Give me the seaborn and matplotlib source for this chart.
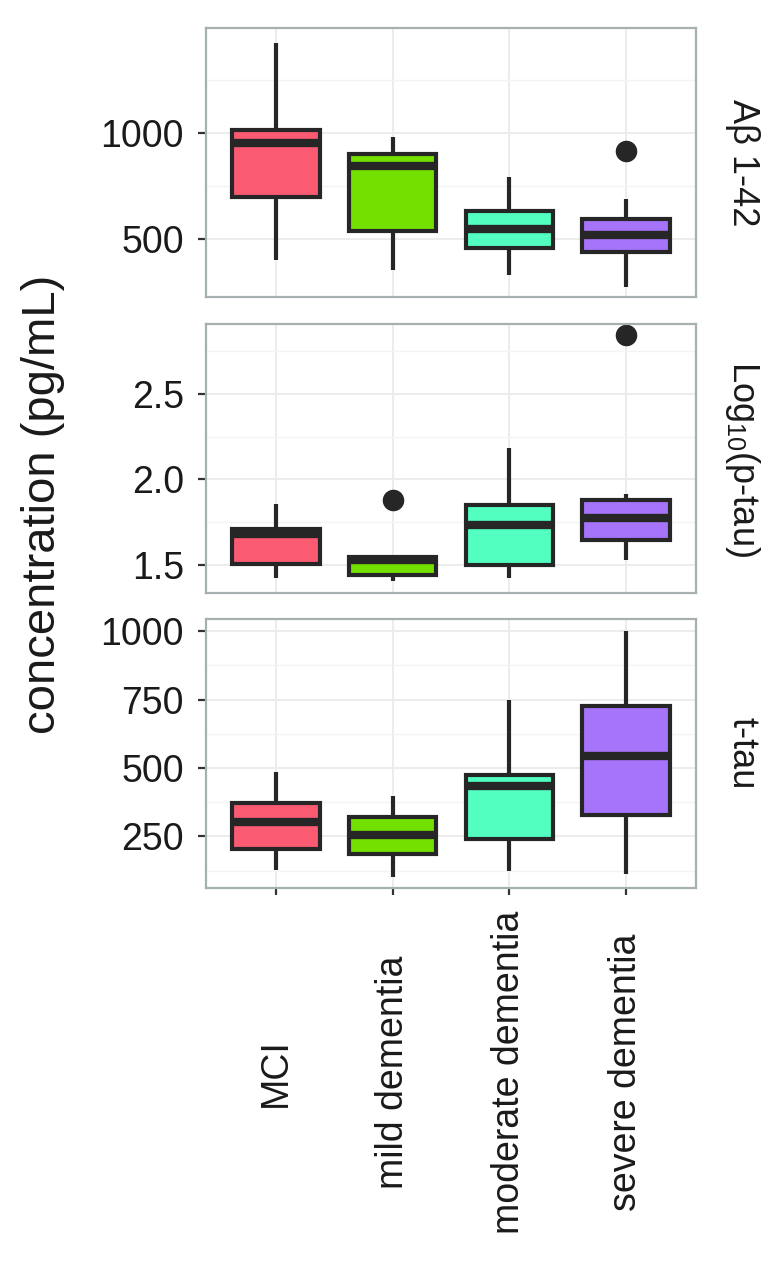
import numpy as np
import pandas as pd
import matplotlib
matplotlib.use("Agg")
import matplotlib.pyplot as plt
import seaborn as sns

# groups on the x axis
groups = ["MCI", "mild dementia", "moderate dementia", "severe dementia"]
colors = ["#fa5a72", "#74e000", "#52ffc0", "#a673fb"]

# box summaries: whisker low, q1, median, q3, whisker high, outliers
ab_low = [402, 355, 333, 276]
ab_q1 = [698, 541, 461, 442]
ab_med = [953, 847, 549, 520]
ab_q3 = [1016, 901, 635, 594]
ab_high = [1427, 981, 792, 692]
ab_out = [[], [], [], [918]]

ptau_low = [1.425, 1.405, 1.425, 1.526]
ptau_q1 = [1.507, 1.439, 1.497, 1.645]
ptau_med = [1.680, 1.530, 1.735, 1.776]
ptau_q3 = [1.708, 1.548, 1.848, 1.877]
ptau_high = [1.854, 1.548, 2.185, 1.912]
ptau_out = [[], [1.879], [], [2.844]]

ttau_low = [128, 103, 124, 112]
ttau_q1 = [204, 185, 241, 327]
ttau_med = [302, 256, 433, 543]
ttau_q3 = [372, 319, 475, 728]
ttau_high = [484, 399, 750, 1000]
ttau_out = [[], [], [], []]


def build_frame(low, q1, med, q3, high, out):
    # ten points per group give back exactly these quartiles and whisker ends
    rows = []
    for i, g in enumerate(groups):
        vals = [low[i], q1[i], q1[i], q1[i], med[i], med[i],
                q3[i], q3[i], q3[i], high[i]] + out[i]
        for v in vals:
            rows.append({"group": g, "value": v})
    return pd.DataFrame(rows)


panels = [
    ("A\u03b2 1-42", build_frame(ab_low, ab_q1, ab_med, ab_q3, ab_high, ab_out),
     (228, 1497), [500, 1000], [750, 1250], ["500", "1000"]),
    (r"Log$_{10}$(p-tau)", build_frame(ptau_low, ptau_q1, ptau_med, ptau_q3, ptau_high, ptau_out),
     (1.335, 2.91), [1.5, 2.0, 2.5], [1.75, 2.25, 2.75], ["1.5", "2.0", "2.5"]),
    ("t-tau", build_frame(ttau_low, ttau_q1, ttau_med, ttau_q3, ttau_high, ttau_out),
     (61, 1045), [250, 500, 750, 1000], [125, 375, 625, 875], ["250", "500", "750", "1000"]),
]

sns.set_theme(style="white")
plt.rcParams["font.family"] = ["Liberation Sans", "DejaVu Sans"]
plt.rcParams["mathtext.fontset"] = "custom"
plt.rcParams["mathtext.rm"] = "Liberation Sans"
plt.rcParams["mathtext.it"] = "Liberation Sans"

W, H = 783, 1262
fig = plt.figure(figsize=(W / 100, H / 100), dpi=100)

tops = [28, 324, 619]
bottoms = [297, 593, 888]
left, right = 206, 696
edge = "#262626"
pal = dict(zip(groups, colors))

for k, (strip, df, ylim, major, minor, labels) in enumerate(panels):
    ax = fig.add_axes([left / W, 1 - bottoms[k] / H, (right - left) / W, (bottoms[k] - tops[k]) / H])
    sns.boxplot(data=df, x="group", y="value", hue="group", palette=pal, order=groups,
                width=0.75, saturation=1, linecolor=edge, linewidth=3.0, showcaps=False,
                medianprops={"linewidth": 6, "color": edge},
                flierprops={"marker": "o", "markersize": 14.5, "markerfacecolor": edge,
                            "markeredgecolor": edge},
                legend=False, ax=ax)
    ax.set_xlim(-0.6, 3.6)
    ax.set_ylim(*ylim)
    ax.set_yticks(major)
    ax.set_yticklabels(labels)
    ax.set_yticks(minor, minor=True)
    ax.grid(True, which="major", color="#ebebeb", linewidth=1.3)
    ax.grid(True, which="minor", axis="y", color="#f4f4f4", linewidth=1.0)
    ax.set_axisbelow(True)
    for s in ax.spines.values():
        s.set_color("#a7b0b0")
        s.set_linewidth(1.6)
    ax.set_xlabel("")
    ax.set_ylabel("")
    ax.tick_params(axis="y", which="major", left=True, length=6, width=1.6, color="#333333",
                   labelsize=27, labelcolor="#1a1a1a", pad=10)
    ax.tick_params(axis="y", which="minor", left=False)
    if k < 2:
        ax.tick_params(axis="x", bottom=False, labelbottom=False)
    else:
        ax.tick_params(axis="x", bottom=True, length=5, width=1.6, color="#333333",
                       labelsize=27, labelcolor="#1a1a1a", pad=128)
        for lab in ax.get_xticklabels():
            lab.set_rotation(90)
            lab.set_va("center")
            lab.set_ha("center")
    ax.text(1.094, 0.5, strip, transform=ax.transAxes, rotation=-90,
            ha="center", va="center", fontsize=26, color="#1a1a1a")

fig.text(43 / W, 1 - 504 / H, "concentration (pg/mL)", rotation=90,
         ha="center", va="center", fontsize=34, color="#1a1a1a")

fig.savefig("out.png", dpi=100, facecolor="white")
